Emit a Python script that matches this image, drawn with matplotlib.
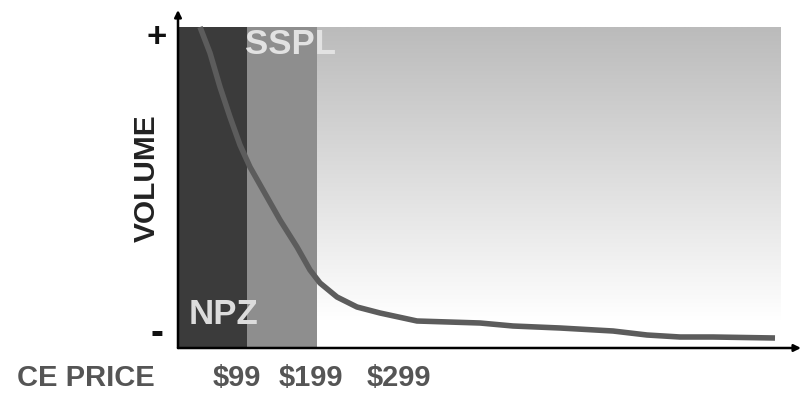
import matplotlib.pyplot as plt
import numpy as np

plt.rcParams['font.family'] = ['Liberation Sans', 'DejaVu Sans']

# price zones (x extents in axis units) and their fills
zone_names = ['NPZ', 'SSPL']
zone_edges = [0, 69, 139]
zone_colors = ['#3b3b3b', '#8e8e8e']
zone_top = 321

# shaded area for the higher price range
grad_x = [139, 603]
grad_top = 321

# demand curve (price position, volume)
curve_x = [22, 32, 42, 52, 62, 72, 85, 102, 119, 132, 142, 159, 179, 202,
           239, 302, 335, 382, 435, 469, 502, 535, 597]
curve_y = [321, 295, 261, 231, 203, 181, 158, 128, 101, 78, 65, 51, 41, 35,
           27, 25, 22, 20, 17, 13, 11, 11, 10]

price_ticks = [59, 133, 221]
price_labels = ['$99', '$199', '$299']

fig = plt.figure(figsize=(8.02, 3.96), dpi=100)
ax = fig.add_axes([178 / 802, 48 / 396, 624 / 802, 338 / 396])
ax.set_xlim(0, 624)
ax.set_ylim(0, 338)
ax.axis('off')

# gradient from grey at the top to white lower down
grad = np.linspace(187, 255, 256)[::-1].reshape(-1, 1) / 255.0
img = np.repeat(grad, 2, axis=1)
ax.imshow(np.dstack([img, img, img]), extent=[grad_x[0], grad_x[1], 27, grad_top],
          aspect='auto', origin='lower', zorder=1)

for i, c in enumerate(zone_colors):
    ax.fill_between([zone_edges[i], zone_edges[i + 1]], 0, zone_top,
                    color=c, lw=0, zorder=2)

ax.plot(curve_x, curve_y, color='#5c5c5c', lw=4, solid_capstyle='butt',
        solid_joinstyle='round', zorder=3)

# axes with arrow heads
ax.annotate('', xy=(0, 338), xytext=(0, 0),
            arrowprops=dict(arrowstyle='-|>', color='black', lw=1.8,
                            mutation_scale=10, shrinkA=0, shrinkB=0),
            annotation_clip=False, zorder=5)
ax.annotate('', xy=(623, 0), xytext=(0, 0),
            arrowprops=dict(arrowstyle='-|>', color='black', lw=1.8,
                            mutation_scale=10, shrinkA=0, shrinkB=0),
            annotation_clip=False, zorder=5)

ax.text(11, 34, zone_names[0], color='#dcdcdc', fontsize=25,
        fontweight='bold', ha='left', va='center', zorder=4)
ax.text(67, 304, zone_names[1], color='#e2e2e2', fontsize=25,
        fontweight='bold', ha='left', va='center', zorder=4)

for x, lab in zip(price_ticks, price_labels):
    ax.text(x, -30, lab, color='#555555', fontsize=21, fontweight='bold',
            ha='center', va='center', clip_on=False)

ax.text(-92, -30, 'CE PRICE', color='#555555', fontsize=21,
        fontweight='bold', ha='center', va='center', clip_on=False)
ax.text(-31, 170, 'VOLUME', color='#222222', fontsize=21.5,
        fontweight='bold', rotation=90, ha='center', va='center', clip_on=False)
ax.text(-21, 310, '+', color='#111111', fontsize=25, fontweight='bold',
        ha='center', va='center', clip_on=False)
ax.text(-21, 14, '-', color='#111111', fontsize=28, fontweight='bold',
        ha='center', va='center', clip_on=False)

fig.savefig('out.png', dpi=100)
